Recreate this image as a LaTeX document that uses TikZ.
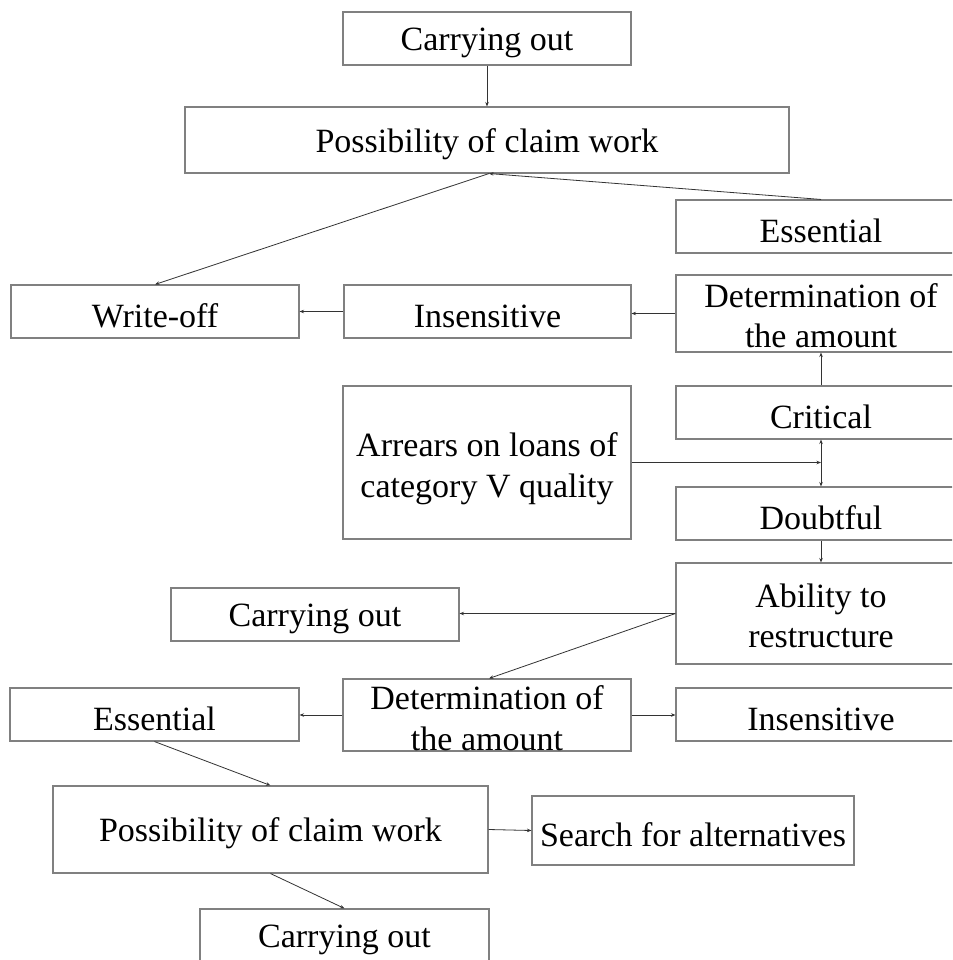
\documentclass[tikz,border=0pt]{standalone}
\usepackage{fontspec}
\setmainfont{Liberation Serif}
\usetikzlibrary{arrows.meta}
\begin{document}
\begin{tikzpicture}[x=1pt,y=-1pt,
  box/.style={draw=black!50,line width=1.1pt,rectangle,inner sep=0pt,align=center,
    font=\fontsize{34}{40.5}\selectfont,text=black,
    execute at begin node={\rule{0pt}{32pt}}},
  conn/.style={draw=black!80,line width=0.8pt,-{Stealth[length=4.5pt,width=3.5pt]}}]
\useasboundingbox (0,0) rectangle (952,960);
\clip (0,0) rectangle (952,960);
\fill[white] (0,0) rectangle (952,960);
% nodes
\node[box,minimum width=288pt,minimum height=53pt] (A) at (487,38.5) {Carrying out};
\node[box,minimum width=604pt,minimum height=66pt] (B) at (487,140) {Possibility of claim work};
\node[box,minimum width=290pt,minimum height=53pt] (C) at (821,226.5) {Essential};
\node[box,minimum width=290pt,minimum height=77pt] (D) at (821,313.5) {\rule{0pt}{28pt}Determination of\\the amount};
\node[box,minimum width=287pt,minimum height=53pt] (E) at (487.5,311.5) {Insensitive};
\node[box,minimum width=288pt,minimum height=53pt] (F) at (155,311.5) {Write-off};
\node[box,minimum width=290pt,minimum height=53pt] (G) at (821,412.5) {Critical};
\node[box,minimum width=288pt,minimum height=153pt] (H) at (487,462.5) {\rule{0pt}{36pt}Arrears on loans of\\category V quality};
\node[box,minimum width=290pt,minimum height=53pt] (I) at (821,513.5) {Doubtful};
\node[box,minimum width=290pt,minimum height=101pt] (J) at (821,613.5) {\rule{0pt}{28pt}Ability to\\restructure};
\node[box,minimum width=288pt,minimum height=53pt] (K) at (315,614.5) {Carrying out};
\node[box,minimum width=288pt,minimum height=72pt] (L) at (487,715) {\rule{0pt}{30pt}Determination of\\the amount};
\node[box,minimum width=289pt,minimum height=53pt] (M) at (154.5,714.5) {Essential};
\node[box,minimum width=290pt,minimum height=53pt] (N) at (821,714.5) {Insensitive};
\node[box,minimum width=435pt,minimum height=87pt] (O) at (270.5,829.5) {Possibility of claim work};
\node[box,minimum width=322pt,minimum height=69pt] (P) at (693,830.5) {Search for alternatives};
\node[box,minimum width=289pt,minimum height=53pt] (Q) at (344.5,935.5) {Carrying out};
\coordinate (j) at (G.south |- H.east);
\coordinate (bs) at ([xshift=2pt]B.south);
% connectors
\draw[conn] (A.south) -- (A.south |- B.north);
\draw[conn] (C.north) -- (bs);
\draw[conn] (bs) -- (F.north);
\draw[conn] (D.west) -- (D.west -| E.east);
\draw[conn] (E.west) -- (E.west -| F.east);
\draw[conn] (G.north) -- (D.south);
\draw[conn] (H.east) -- (j);
\draw[conn] (j) -- (G.south);
\draw[conn] (j) -- (I.north);
\draw[conn] (I.south) -- (J.north);
\draw[conn] (J.west) -- (J.west -| K.east);
\draw[conn] (J.west) -- ([xshift=2pt]L.north);
\draw[conn] (L.west) -- (L.west -| M.east);
\draw[conn] (L.east) -- (L.east -| N.west);
\draw[conn] (M.south) -- (O.north);
\draw[conn] (O.east) -- (P.west);
\draw[conn] (O.south) -- (Q.north);
\end{tikzpicture}
\end{document}
